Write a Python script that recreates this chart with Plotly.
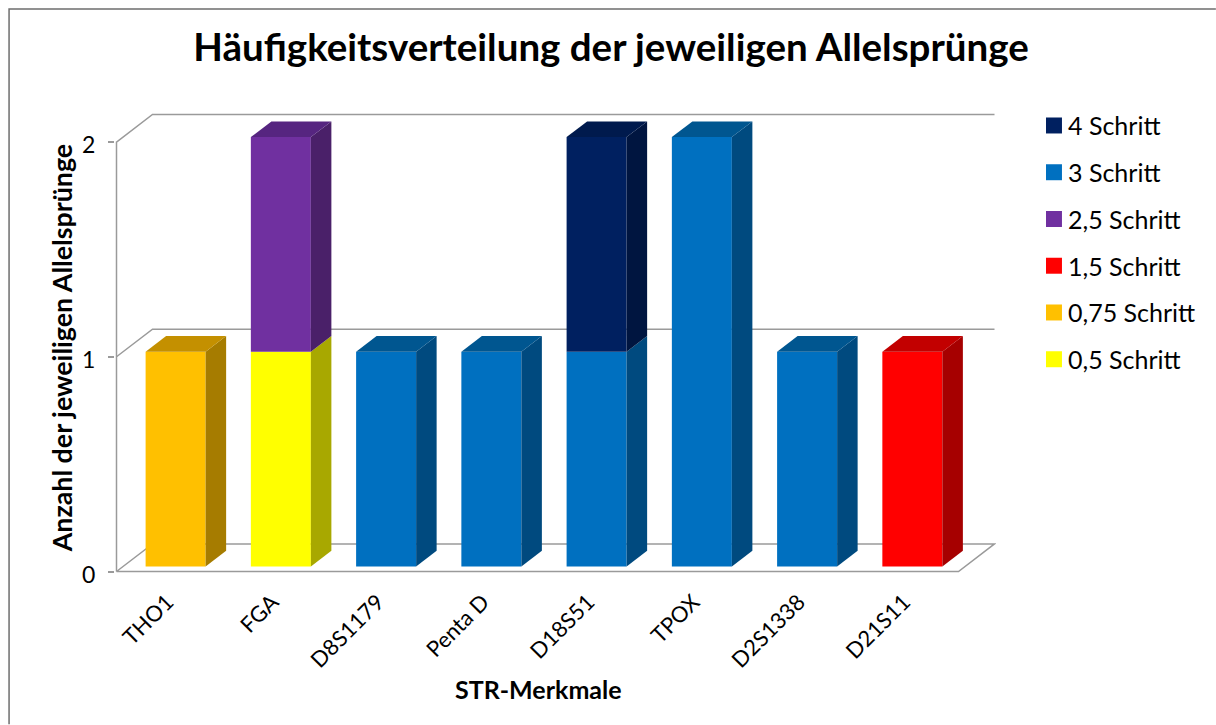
import plotly.graph_objects as go

categories = ["THO1", "FGA", "D8S1179", "Penta D", "D18S51", "TPOX", "D2S1338", "D21S11"]

# stacking order: bottom segment first, legend is shown top down from the last one
series_names = ["0,5 Schritt", "0,75 Schritt", "1,5 Schritt", "2,5 Schritt", "3 Schritt", "4 Schritt"]
schritt_05 = [0, 1, 0, 0, 0, 0, 0, 0]
schritt_075 = [1, 0, 0, 0, 0, 0, 0, 0]
schritt_15 = [0, 0, 0, 0, 0, 0, 0, 1]
schritt_25 = [0, 1, 0, 0, 0, 0, 0, 0]
schritt_3 = [0, 0, 1, 1, 1, 2, 1, 0]
schritt_4 = [0, 0, 0, 0, 1, 0, 0, 0]
series_values = [schritt_05, schritt_075, schritt_15, schritt_25, schritt_3, schritt_4]

front_colors = ["#FFFF00", "#FFC000", "#FF0000", "#7030A0", "#0070C0", "#002060"]
side_colors = ["#A8A800", "#A67C00", "#A60000", "#4A2069", "#004A7F", "#001540"]
top_colors = ["#C4C400", "#C49000", "#C20000", "#562580", "#005690", "#001A4D"]

FONT = "Lato, Carlito, Calibri, sans-serif"
GRID = "#9a9a9a"
FRAME = "#6e6e6e"

# floor depth in axis units, bars sit between two depth fractions
DEPTH_X = 36 / 105.25
DEPTH_Y = 27.5 / 214.5
BAR_FRONT = 0.18
BAR_BACK = 0.75
BAR_WIDTH = 60 / 105.25
X_END = 7.5
PAD_X = 1.5 / 105.25
PAD_Y = 1.5 / 214.5

W, H = 1216, 725
M_L, M_R, M_T, M_B = 114.5, 220, 113, 151.5


def paper_x(px):
    return (px - M_L) / (W - M_L - M_R)


def paper_y(px):
    return (H - M_B - px) / (H - M_T - M_B)


def project(x, y, d):
    return x + d * DEPTH_X, y + d * DEPTH_Y


def side_face(i, y0, y1):
    right = i + BAR_WIDTH / 2
    pts = [project(right, y0, BAR_FRONT), project(right, y0, BAR_BACK),
           project(right, y1, BAR_BACK), project(right, y1, BAR_FRONT)]
    return [p[0] for p in pts], [p[1] for p in pts]


def top_face(i, y):
    left, right = i - BAR_WIDTH / 2, i + BAR_WIDTH / 2
    pts = [project(left, y, BAR_FRONT), project(right, y, BAR_FRONT),
           project(right, y, BAR_BACK), project(left, y, BAR_BACK)]
    return [p[0] for p in pts], [p[1] for p in pts]


def polygon(xs, ys, color):
    return go.Scatter(x=xs, y=ys, fill="toself", fillcolor=color, mode="lines",
                      line=dict(width=0), hoverinfo="skip", showlegend=False)


def wall_line(points):
    path = "M " + " L ".join(f"{x},{y}" for x, y in points)
    return dict(type="path", path=path, xref="x", yref="y", layer="below",
                line=dict(color=GRID, width=1.5))


fig = go.Figure()

bases = [0] * len(categories)
totals = [sum(v[i] for v in series_values) for i in range(len(categories))]
faces = []
for name, values, front, side, top in zip(series_names, series_values, front_colors, side_colors, top_colors):
    xs, ys, starts = [], [], []
    for i, v in enumerate(values):
        if v == 0:
            continue
        bx, by = project(i, bases[i], BAR_FRONT)
        xs.append(bx)
        ys.append(v)
        starts.append(by)
        faces.append(polygon(*side_face(i, bases[i], bases[i] + v), side))
        if bases[i] + v == totals[i]:
            faces.append(polygon(*top_face(i, totals[i]), top))
        bases[i] += v
    fig.add_trace(go.Bar(x=xs, y=ys, base=starts, width=BAR_WIDTH, name=name,
                         marker=dict(color=front, line=dict(width=0)), showlegend=False))
fig.add_traces(faces)

back_x, back_y = DEPTH_X, DEPTH_Y
shapes = [
    wall_line([(-0.5, 0), (-0.5, 2), (-0.5 + back_x, 2 + back_y), (X_END + back_x, 2 + back_y)]),
    wall_line([(-0.5, 1), (-0.5 + back_x, 1 + back_y), (X_END + back_x, 1 + back_y)]),
    wall_line([(-0.5, 0), (-0.5 + back_x, back_y), (X_END + back_x, back_y), (X_END, 0), (-0.5, 0)]),
    # outer frame of the picture, only top and left are visible
    dict(type="path", xref="paper", yref="paper",
         path=f"M {paper_x(8.5)},{paper_y(H)} L {paper_x(8.5)},{paper_y(9)} L {paper_x(W)},{paper_y(9)}",
         line=dict(color=FRAME, width=1.5)),
]

# legend by hand, the built-in one cannot do this swatch size and gap
annotations = []
for n, name in enumerate(reversed(series_names)):
    color = front_colors[len(series_names) - 1 - n]
    cy = 125.5 + 46.8 * n
    shapes.append(dict(type="rect", xref="paper", yref="paper",
                       x0=paper_x(1046), x1=paper_x(1062), y0=paper_y(cy + 8), y1=paper_y(cy - 8),
                       fillcolor=color, line=dict(width=0)))
    annotations.append(dict(text=name, xref="paper", yref="paper", x=paper_x(1066), y=paper_y(cy),
                            xanchor="left", yanchor="middle", showarrow=False, font=dict(size=25)))

annotations.append(dict(text="<b>STR-Merkmale</b>", xref="paper", yref="paper", x=paper_x(538), y=paper_y(690),
                        xanchor="center", yanchor="middle", showarrow=False, font=dict(size=25)))
annotations.append(dict(text="<b>Anzahl der jeweiligen Allelsprünge</b>", xref="paper", yref="paper",
                        x=paper_x(61), y=paper_y(349), xanchor="center", yanchor="middle", textangle=-90,
                        showarrow=False, font=dict(size=26.8)))

fig.update_layout(
    width=W, height=H,
    margin=dict(l=M_L, r=M_R, t=M_T, b=M_B, autoexpand=False),
    paper_bgcolor="white", plot_bgcolor="white",
    barmode="overlay",
    showlegend=False,
    font=dict(family=FONT, color="black", size=21),
    title=dict(text="<b>Häufigkeitsverteilung der jeweiligen Allelsprünge</b>",
               font=dict(family=FONT, size=38.5), x=0.5025, xanchor="center", y=0.935, yanchor="middle"),
    shapes=shapes,
    annotations=annotations,
)
fig.update_xaxes(range=[-0.5 - PAD_X, X_END + back_x + PAD_X], tickmode="array",
                 tickvals=list(range(len(categories))), ticktext=categories, tickangle=-45,
                 showgrid=False, zeroline=False, showline=False, ticks="",
                 ticklabelstandoff=11, ticklabelshift=-2, tickfont=dict(size=22))
fig.update_yaxes(range=[-PAD_Y, 2 + back_y + PAD_Y], tickvals=[0, 1, 2],
                 showgrid=False, zeroline=False, showline=False,
                 ticks="outside", ticklen=6, tickcolor=GRID, tickwidth=1.5, ticklabelstandoff=8,
                 ticklabelshift=3, tickfont=dict(size=23))

fig.write_html("out.html", post_script="document.body.style.margin='0';", config=dict(displayModeBar=False))
